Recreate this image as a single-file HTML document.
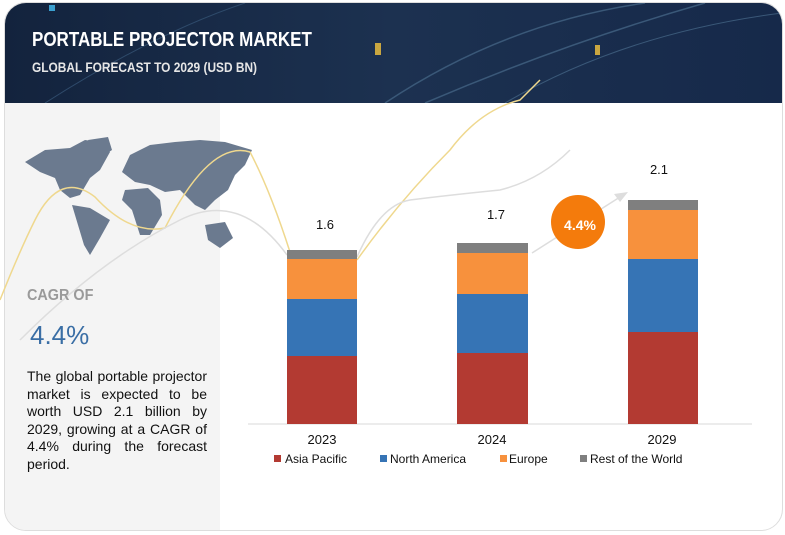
<!DOCTYPE html>
<html><head><style>
body{margin:0;width:785px;height:535px;background:#fff;position:relative;overflow:hidden;font-family:"Liberation Sans",sans-serif}
.card{position:absolute;left:4px;top:2px;width:777px;height:527px;border:1px solid #ddd;border-radius:22px;overflow:hidden;background:#fff}
.hdr{position:absolute;left:0;top:0;width:777px;height:100px;background:linear-gradient(90deg,#13233d,#1c3150 50%,#16294a)}
.left{position:absolute;left:0;top:100px;width:215px;height:427px;background:#f4f4f4}
.t1{position:absolute;left:27px;top:26px;color:#fff;font-weight:bold;font-size:20px;transform:scaleX(.85);transform-origin:left;letter-spacing:0}
.t2{position:absolute;left:27px;top:56px;color:#e6e6e6;font-weight:bold;font-size:14px;transform:scaleX(.85);transform-origin:left}
.txt{position:absolute;left:27px;top:368px;width:180px;font-size:14px;line-height:17.6px;color:#111;text-align:justify}
</style></head><body>
<div class="card">
<div class="hdr">
<svg width="777" height="100" style="position:absolute;left:0;top:0">
<path d="M380 100 Q500 20 640 0" stroke="#3a5878" fill="none" stroke-width="1.5"/>
<path d="M420 100 Q560 40 700 0" stroke="#3a5878" fill="none" stroke-width="1.5"/>
<path d="M500 100 Q620 30 777 10" stroke="#3a5878" fill="none"/>
<path d="M40 100 Q150 30 240 0" stroke="#2e4a6a" fill="none"/>
<rect x="370" y="40" width="6" height="12" fill="#c9a640"/>
<rect x="590" y="42" width="5" height="10" fill="#c9a640"/>
<rect x="44" y="2" width="6" height="6" fill="#3aa0d0"/>
</svg>
<div class="t1">PORTABLE PROJECTOR MARKET</div>
<div class="t2">GLOBAL FORECAST TO 2029 (USD BN)</div>
</div>
<div class="left"></div>
</div>
<svg width="785" height="535" style="position:absolute;left:0;top:0">
<g fill="#6b7a8f">
<path d="M25 162 L45 150 L70 148 L85 140 L100 142 L110 152 L100 170 L90 178 L80 195 L70 198 L60 190 L55 178 L40 172 Z"/>
<path d="M88 140 L108 137 L112 150 L100 158 Z"/>
<path d="M72 205 L90 208 L110 220 L100 238 L90 255 L84 245 L78 225 Z"/>
<path d="M122 172 L130 155 L150 145 L175 142 L200 140 L225 142 L252 150 L245 165 L235 175 L228 190 L215 200 L205 210 L195 205 L180 190 L165 192 L150 185 L135 182 Z"/>
<path d="M125 190 L148 188 L160 200 L162 215 L150 235 L140 235 L132 210 L122 200 Z"/>
<path d="M205 225 L225 222 L233 238 L220 248 L208 240 Z"/>
</g>
<path d="M0 300 Q20 250 35 220 Q60 170 95 197 Q130 235 165 228 Q210 140 250 152 Q270 190 290 252" stroke="#efd88e" fill="none" stroke-width="1.5"/>
<path d="M357 260 Q400 200 450 150 Q480 110 520 100 L540 80" stroke="#efd88e" fill="none" stroke-width="1.5"/>
<path d="M20 340 Q100 260 180 220 Q240 190 287 255" stroke="#ddd" fill="none" stroke-width="1.5"/>
<path d="M357 257 Q380 205 410 200 Q450 195 500 190 Q540 180 570 150" stroke="#ddd" fill="none" stroke-width="1.5"/>
<path d="M532 253 L620 197" stroke="#ddd" stroke-width="1.5"/>
<polygon points="628,192 614,194 620,202" fill="#ddd"/>
<line x1="248" y1="424" x2="752" y2="424" stroke="#d9d9d9"/>
<rect x="287" y="356" width="70" height="68" fill="#b33a32"/>
<rect x="287" y="299" width="70" height="57" fill="#3674b5"/>
<rect x="287" y="259" width="70" height="40" fill="#f7913d"/>
<rect x="287" y="250" width="70" height="9" fill="#7f7f7f"/>
<rect x="457" y="353" width="71" height="71" fill="#b33a32"/>
<rect x="457" y="294" width="71" height="59" fill="#3674b5"/>
<rect x="457" y="253" width="71" height="41" fill="#f7913d"/>
<rect x="457" y="243" width="71" height="10" fill="#7f7f7f"/>
<rect x="628" y="332" width="70" height="92" fill="#b33a32"/>
<rect x="628" y="259" width="70" height="73" fill="#3674b5"/>
<rect x="628" y="210" width="70" height="49" fill="#f7913d"/>
<rect x="628" y="200" width="70" height="10" fill="#7f7f7f"/>
<circle cx="578" cy="222" r="27" fill="#f47b0c"/>
<text x="580" y="230" fill="#fff" font-size="14" font-weight="bold" text-anchor="middle" font-family="Liberation Sans">4.4%</text>
<g font-family="Liberation Sans" font-size="13" fill="#111" text-anchor="middle">
<text x="325" y="229">1.6</text><text x="496" y="219">1.7</text><text x="659" y="174">2.1</text>
<text x="322" y="444">2023</text><text x="492" y="444">2024</text><text x="662" y="444">2029</text>
</g>
<g font-family="Liberation Sans" font-size="12" fill="#111">
<rect x="274" y="455" width="7" height="7" fill="#b33a32"/><text x="285" y="463">Asia Pacific</text>
<rect x="380" y="455" width="7" height="7" fill="#3674b5"/><text x="390" y="463">North America</text>
<rect x="500" y="455" width="7" height="7" fill="#f7913d"/><text x="509" y="463">Europe</text>
<rect x="580" y="455" width="7" height="7" fill="#7f7f7f"/><text x="590" y="463">Rest of the World</text>
</g>
<text x="27" y="300" font-family="Liberation Sans" font-size="16" font-weight="bold" fill="#9a9a9a" transform="translate(27 0) scale(0.9 1) translate(-27 0)">CAGR OF</text>
<text x="30" y="344" font-family="Liberation Sans" font-size="26" fill="#3a6ea5">4.4%</text>
</svg>
<div class="txt">The global portable projector market is expected to be worth USD 2.1 billion by 2029, growing at a CAGR of 4.4% during the forecast period.</div>
</body></html>
